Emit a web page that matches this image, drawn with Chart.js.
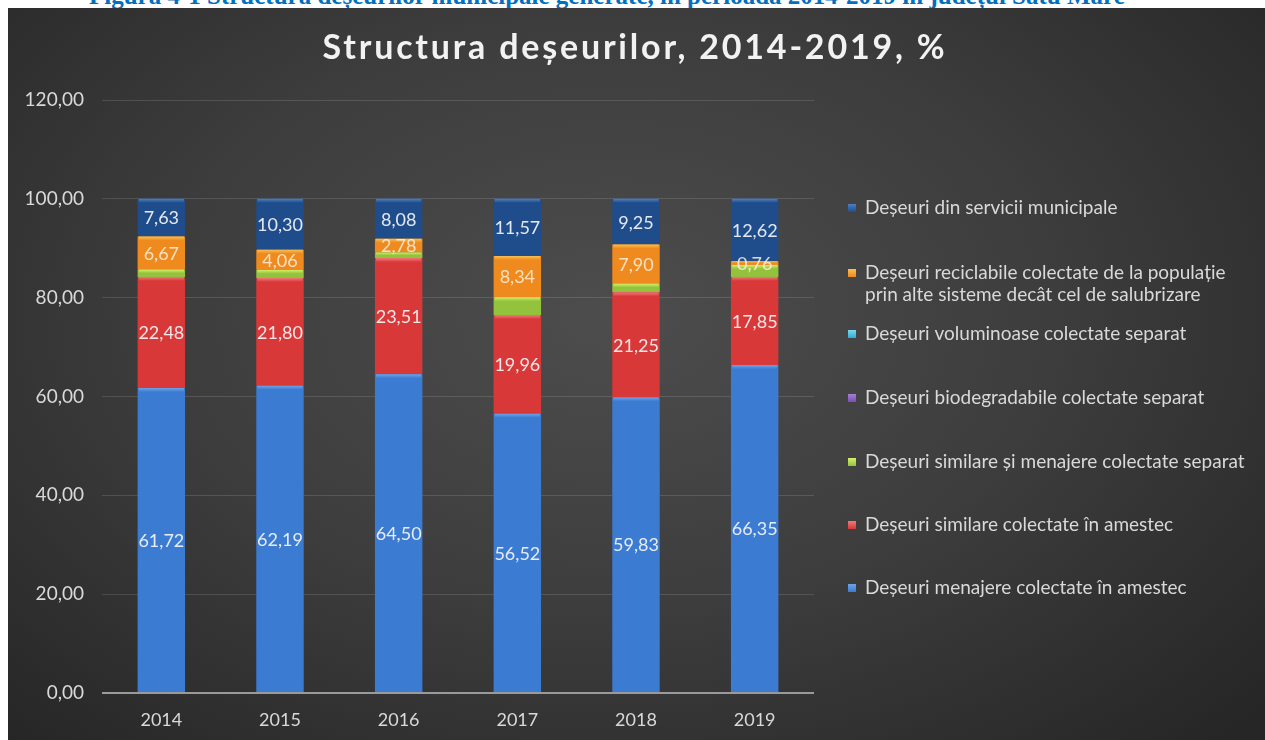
<!DOCTYPE html>
<html><head><meta charset="utf-8">
<script src="https://cdn.jsdelivr.net/npm/chart.js@4.4.1/dist/chart.umd.min.js"></script>
<style>
html,body{margin:0;padding:0;background:#fff;width:1265px;height:740px;overflow:hidden;position:relative;}
#hdr{position:absolute;left:89px;top:-17px;font:bold 25px "Liberation Serif","Times New Roman",serif;color:#0070c0;white-space:nowrap;line-height:25px;z-index:1;}
#panel{position:absolute;left:8px;top:8px;width:1257px;height:732px;z-index:2;
background:radial-gradient(ellipse 70% 80% at 48% 42%, #4d4d4d 0%, #3d3d3d 50%, #262626 100%);}
canvas{display:block}
</style></head><body>
<div id="hdr">Figura 4-1 Structura deșeurilor municipale generate, în perioada 2014-2019 în județul Satu Mare</div>
<div id="panel"><canvas id="c" width="1257" height="732"></canvas></div>
<script>
// ---- data ----
const years = ['2014', '2015', '2016', '2017', '2018', '2019'];
const menajereAmestec = [61.72, 62.19, 64.50, 56.52, 59.83, 66.35];
const similareAmestec = [22.48, 21.80, 23.51, 19.96, 21.25, 17.85];
const similareMenajereSeparat = [1.50, 1.65, 1.13, 3.61, 1.77, 2.42];
const biodegradabileSeparat = [0, 0, 0, 0, 0, 0];
const voluminoaseSeparat = [0, 0, 0, 0, 0, 0];
const reciclabilePopulatie = [6.67, 4.06, 2.78, 8.34, 7.90, 0.76];
const serviciiMunicipale = [7.63, 10.30, 8.08, 11.57, 9.25, 12.62];
const yTickValues = [0, 20, 40, 60, 80, 100, 120];
const chartTitle = 'Structura deșeurilor, 2014-2019, %';
const seriesNames = [
  'Deșeuri menajere colectate în amestec',
  'Deșeuri similare colectate în amestec',
  'Deșeuri similare și menajere colectate separat',
  'Deșeuri biodegradabile colectate separat',
  'Deșeuri voluminoase colectate separat',
  'Deșeuri reciclabile colectate de la populație prin alte sisteme decât cel de salubrizare',
  'Deșeuri din servicii municipale'
];

// ---- styles ----
const colors = ['#3b7bd1', '#d93838', '#93c23c', '#7b4fb5', '#2aaed4', '#ee8a1e', '#1f4d8c'];
const highlights = ['#6fa3e6', '#f07a7a', '#d6ef6a', '#a57fd8', '#7fd7f0', '#f9c052', '#4f7fc0'];
const showLabels = [true, true, false, false, false, true, true];
const fmt = v => v.toFixed(2).replace('.', ',');
const FONT = 'Lato, "Open Sans", sans-serif';

const seriesData = [menajereAmestec, similareAmestec, similareMenajereSeparat,
  biodegradabileSeparat, voluminoaseSeparat, reciclabilePopulatie, serviciiMunicipale];

const datasets = seriesData.map((d, i) => ({
  label: seriesNames[i],
  data: d,
  backgroundColor: colors[i],
  borderWidth: 0,
  borderRadius: 2,
  borderSkipped: false,
  categoryPercentage: 1.0,
  barPercentage: 0.4
}));

const bevel = {
  id: 'bevel',
  afterDatasetsDraw(chart) {
    const ctx = chart.ctx;
    ctx.save();
    chart.data.datasets.forEach((ds, i) => {
      const meta = chart.getDatasetMeta(i);
      meta.data.forEach((bar) => {
        const p = bar.getProps(['x', 'y', 'base', 'width'], true);
        const h = Math.abs(p.base - p.y);
        if (h < 1) return;
        const hh = Math.min(4, h / 2);
        const g = ctx.createLinearGradient(0, p.y, 0, p.y + hh);
        g.addColorStop(0, highlights[i]);
        g.addColorStop(1, colors[i]);
        ctx.fillStyle = g;
        ctx.fillRect(p.x - p.width / 2 + 1, p.y, p.width - 2, hh);
      });
    });
    ctx.restore();
  }
};

const valueLabels = {
  id: 'valueLabels',
  afterDatasetsDraw(chart) {
    const ctx = chart.ctx;
    ctx.save();
    ctx.font = '18px ' + FONT;
    ctx.textAlign = 'center';
    ctx.textBaseline = 'middle';
    chart.data.datasets.forEach((ds, i) => {
      if (!showLabels[i]) return;
      const meta = chart.getDatasetMeta(i);
      meta.data.forEach((bar, j) => {
        const p = bar.getProps(['x', 'y', 'base'], true);
        ctx.fillStyle = i === 5 ? 'rgba(255,240,225,0.85)' : 'rgba(245,245,250,0.92)';
        ctx.fillText(fmt(ds.data[j]), p.x, (p.y + p.base) / 2 + 1);
      });
    });
    ctx.restore();
  }
};

const titleDraw = {
  id: 'titleDraw',
  afterDraw(chart) {
    const ctx = chart.ctx;
    ctx.save();
    ctx.font = 'bold 34px ' + FONT;
    ctx.letterSpacing = '2.8px';
    ctx.fillStyle = '#f2f2f2';
    ctx.textAlign = 'center';
    ctx.textBaseline = 'middle';
    ctx.fillText(chartTitle, 627, 40);
    ctx.restore();
  }
};

// legend rows (canvas y of first text line), top to bottom
const legendRowY = [200, 265, 326, 390, 454, 517, 580];
const customLegend = {
  id: 'customLegend',
  afterDraw(chart) {
    const ctx = chart.ctx;
    ctx.save();
    ctx.font = '19px ' + FONT;
    ctx.textBaseline = 'middle';
    ctx.textAlign = 'left';
    const n = chart.data.datasets.length;
    const textX = 857, boxX = 840, maxW = 1257 - textX - 4;
    for (let k = 0; k < n; k++) {
      const i = n - 1 - k;
      const y = legendRowY[k];
      const g = ctx.createLinearGradient(0, y - 4, 0, y + 4);
      g.addColorStop(0, highlights[i]);
      g.addColorStop(1, colors[i]);
      ctx.fillStyle = g;
      ctx.fillRect(boxX, y - 4, 8, 8);
      const words = chart.data.datasets[i].label.split(' ');
      let line = '', ly = y;
      ctx.fillStyle = '#d9d9d9';
      words.forEach(w => {
        const test = line ? line + ' ' + w : w;
        if (ctx.measureText(test).width > maxW && line) {
          ctx.fillText(line, textX, ly);
          line = w; ly += 22;
        } else line = test;
      });
      ctx.fillText(line, textX, ly);
    }
    ctx.restore();
  }
};

new Chart(document.getElementById('c'), {
  type: 'bar',
  data: { labels: years, datasets },
  options: {
    responsive: false,
    animation: false,
    devicePixelRatio: 1,
    layout: { padding: { left: 0, right: 451, top: 92, bottom: 0 } },
    plugins: {
      legend: { display: false },
      tooltip: { enabled: false },
      title: { display: false, text: chartTitle }
    },
    scales: {
      x: {
        stacked: true,
        grid: { display: false, drawTicks: false },
        border: { display: false },
        ticks: { color: '#d9d9d9', font: { family: FONT, size: 18 }, padding: 16 },
        afterFit(s) { s.height = 47; }
      },
      y: {
        stacked: true,
        min: 0, max: 120,
        afterBuildTicks(s) { s.ticks = yTickValues.map(v => ({ value: v })); },
        grid: {
          drawTicks: false,
          color: c => c.tick && c.tick.value === 0 ? '#9a9a9a' : 'rgba(255,255,255,0.13)',
          lineWidth: c => c.tick && c.tick.value === 0 ? 2 : 1
        },
        border: { display: false },
        ticks: { color: '#d9d9d9', font: { family: FONT, size: 19 }, padding: 18, callback: v => fmt(v) },
        afterFit(s) { s.width = 94; }
      }
    }
  },
  plugins: [bevel, valueLabels, titleDraw, customLegend]
});
</script>
</body></html>
